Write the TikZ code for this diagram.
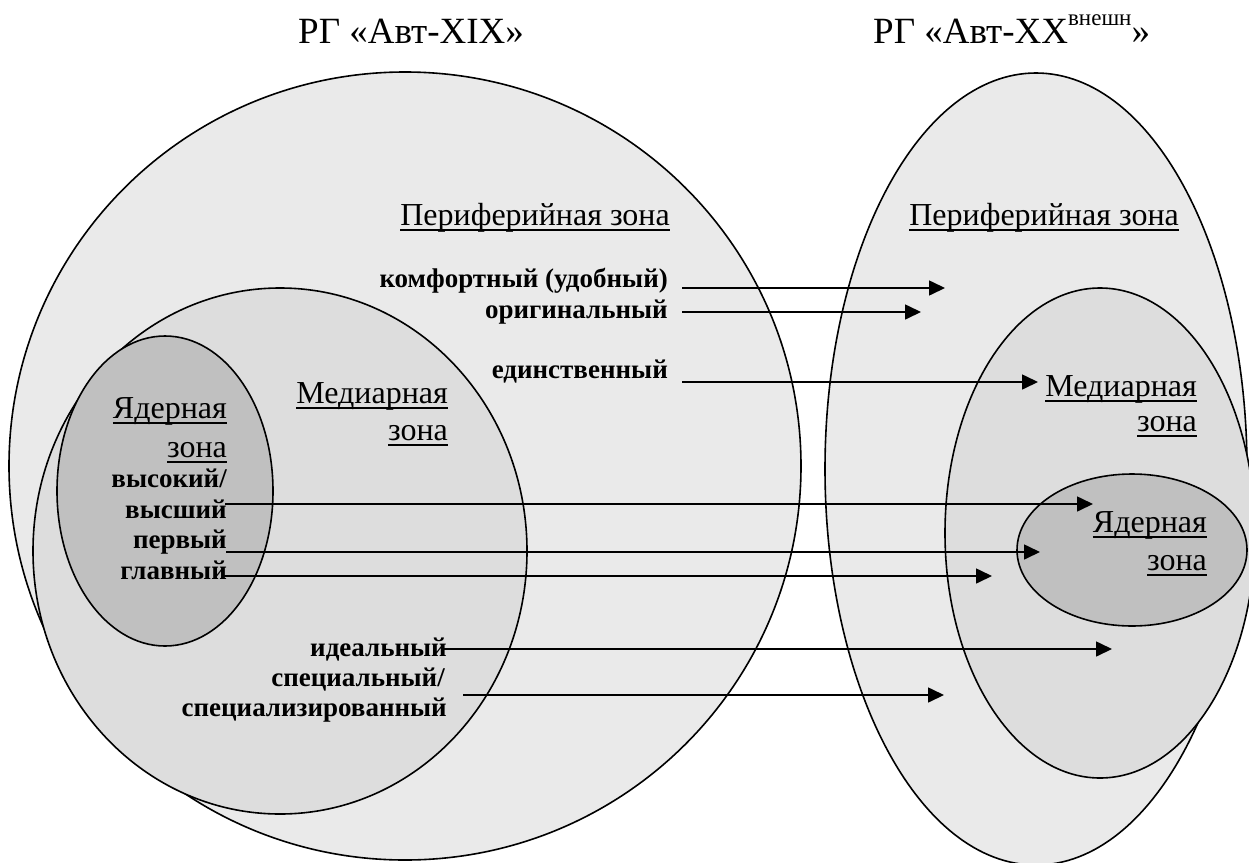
\documentclass[tikz,border=0pt]{standalone}
\usepackage{fontspec}
\setmainfont{Liberation Serif}
\usetikzlibrary{arrows.meta}

% underline drawn at a fixed depth below the baseline, through descenders
\newcommand\zoneul[1]{\setbox0=\hbox{#1}\rlap{\rule[-5.5pt]{\wd0}{1.8pt}}\box0}

\definecolor{zoneOuter}{RGB}{234,234,234}
\definecolor{zoneMid}{RGB}{221,221,221}
\definecolor{zoneCore}{RGB}{192,192,192}

\tikzset{
  zone/.style={draw=black, line width=1.6pt},
  outerzone/.style={zone, fill=zoneOuter},
  midzone/.style={zone, fill=zoneMid},
  corezone/.style={zone, fill=zoneCore},
  ttl/.style={inner sep=0pt, anchor=base west, font=\fontsize{37}{44}\selectfont},
  lbl/.style={inner sep=0pt, anchor=base east, font=\fontsize{32}{38}\selectfont},
  word/.style={inner sep=0pt, anchor=base east, font=\fontsize{27}{31}\selectfont\bfseries},
  arr/.style={line width=1.6pt, -{Triangle[length=16pt,width=15pt]}},
}

\begin{document}
\begin{tikzpicture}[x=1pt,y=-1pt]
\useasboundingbox (0,0) rectangle (1249,862);
\clip (0,0) rectangle (1249,862);

% left group of zones
\draw[outerzone] (405,466) ellipse [x radius=396, y radius=394];
\draw[midzone]   (280,551) ellipse [x radius=247, y radius=263];
\draw[corezone]  (165,491) ellipse [x radius=108, y radius=155];

% right group of zones
\draw[outerzone] (1036,469) ellipse [x radius=211, y radius=396];
\draw[midzone]   (1100,533) ellipse [x radius=155, y radius=245];
\draw[corezone]  (1132,550) ellipse [x radius=115, y radius=76];

% titles
\node[ttl] (ttlL) at (298,43) {РГ «Авт-XIX»};
\node[ttl] (ttlR) at (873,43) {РГ «Авт-XX\raisebox{18pt}{\fontsize{23}{23}\selectfont внешн}»};

% zone labels
\node[lbl] (perL)   at (670,225)  {\zoneul{Периферийная зона}};
\node[lbl] (perR)   at (1179,225) {\zoneul{Периферийная зона}};
\node[lbl] (medL1)  at (448,403)  {\zoneul{Медиарная}};
\node[lbl] (medL2)  at (448,440)  {\zoneul{зона}};
\node[lbl] (coreL1) at (227,418)  {\zoneul{Ядерная}};
\node[lbl] (coreL2) at (227,457)  {\zoneul{зона}};
\node[lbl] (medR1)  at (1197,396) {\zoneul{Медиарная}};
\node[lbl] (medR2)  at (1197,431) {\zoneul{зона}};
\node[lbl] (coreR1) at (1207,532) {\zoneul{Ядерная}};
\node[lbl] (coreR2) at (1207,570) {\zoneul{зона}};

% adjectives
\node[word] (kom)   at (668,287) {комфортный (удобный)};
\node[word] (orig)  at (668,318) {оригинальный};
\node[word] (edin)  at (668,378) {единственный};
\node[word] (vys1)  at (227,487) {высокий/};
\node[word] (vys2)  at (227,518) {высший};
\node[word] (perv)  at (227,548) {первый};
\node[word] (glav)  at (227,579) {главный};
\node[word] (ideal) at (447,656) {идеальный};
\node[word] (spec1) at (445,686) {специальный/};
\node[word] (spec2) at (447,716) {специализированный};

% arrow ends
\coordinate (tKom)   at (945,288);
\coordinate (tOrig)  at (921,312);
\coordinate (tEdin)  at (1038,382);
\coordinate (tVys)   at (1093,504);
\coordinate (tPerv)  at (1040,552);
\coordinate (tGlav)  at (992,576);
\coordinate (tIdeal) at (1112,649);
\coordinate (tSpec)  at (944,695);

% shifts of the zones
\draw[arr] (kom.east |- tKom) ++(14,0) -- (tKom);
\draw[arr] (orig.east |- tOrig) ++(14,0) -- (tOrig);
\draw[arr] (edin.east |- tEdin) ++(14,0) -- (tEdin);
\draw[arr] (vys2.east |- tVys) ++(-2,0) -- (tVys);
\draw[arr] (perv.east |- tPerv) ++(-1,0) -- (tPerv);
\draw[arr] (glav.east |- tGlav) ++(-4,0) -- (tGlav);
\draw[arr] (ideal.east |- tIdeal) ++(-4,0) -- (tIdeal);
\draw[arr] (spec1.east |- tSpec) ++(18,0) -- (tSpec);
\end{tikzpicture}
\end{document}
